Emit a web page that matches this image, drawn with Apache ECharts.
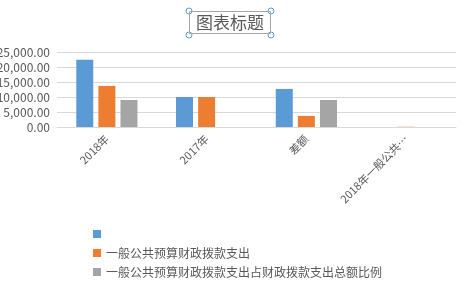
<!DOCTYPE html>
<html><head><meta charset="utf-8">
<script src="https://cdn.jsdelivr.net/npm/echarts@6/dist/echarts.min.js"></script>
<style>html,body{margin:0;padding:0;background:#fff}#c{width:470px;height:292px}</style>
</head><body><div id="c"></div>
<script>
var categories = ['2018年', '2017年', '差额', '2018年一般公共预算财政拨款支出占财政拨款支出总额比例'];
var seriesNames = [' ', '一般公共预算财政拨款支出', '一般公共预算财政拨款支出占财政拨款支出总额比例'];
var seriesA = [22400, 10000, 12700, null];
var seriesB = [13700, 10000, 3700, 300];
var seriesC = [9000, null, 9000, null];
var yTicks = [0, 5000, 10000, 15000, 20000, 25000];

var font = '"Noto Sans CJK SC", "Noto Sans", sans-serif';
var txt = '#595959';
function fmt(v){ return v.toLocaleString('en-US',{minimumFractionDigits:2, maximumFractionDigits:2}); }

var chart = echarts.init(document.getElementById('c'));
chart.setOption({
  animation: false,
  title: {
    text: '图表标题', left: 189, top: 11,
    padding: [3, 7, 3, 7],
    borderColor: '#a6a6a6', borderWidth: 1,
    textStyle: {color: txt, fontSize: 17, fontWeight: 'normal', fontFamily: font}
  },
  legend: {
    orient: 'vertical', left: 88, top: 223,
    itemWidth: 8, itemHeight: 8, itemGap: 7,
    icon: 'rect',
    textStyle: {color: txt, fontSize: 12, fontFamily: font},
    data: seriesNames
  },
  grid: {left: 57, right: 14, top: 52, height: 75, outerBoundsMode: 'none'},
  xAxis: {
    type: 'category', data: categories,
    axisLine: {lineStyle: {color: '#d9d9d9'}},
    axisTick: {show: false},
    axisLabel: {
      rotate: 45, interval: 0, color: txt, fontSize: 11, fontFamily: font, margin: 10,
      width: 95, overflow: 'truncate', ellipsis: '…'
    }
  },
  yAxis: {
    type: 'value', min: yTicks[0], max: yTicks[yTicks.length - 1], interval: 5000,
    axisLine: {show: false}, axisTick: {show: false},
    splitLine: {lineStyle: {color: '#d9d9d9'}},
    axisLabel: {color: txt, fontSize: 12, fontFamily: font, margin: 7, formatter: function(v){ return fmt(v); }}
  },
  series: [
    {name: seriesNames[0], type: 'bar', data: seriesA, barWidth: 17, barGap: '30%', itemStyle: {color: '#5b9bd5'}},
    {name: seriesNames[1], type: 'bar', data: seriesB.map(function(v, i){ return i === 3 ? {value: v, itemStyle: {opacity: 0.25}} : v; }), barWidth: 17, barGap: '30%', itemStyle: {color: '#ed7d31'}},
    {name: seriesNames[2], type: 'bar', data: seriesC, barWidth: 17, barGap: '30%', itemStyle: {color: '#a5a5a5'}}
  ],
  graphic: [
    {type: 'circle', shape: {cx: 189, cy: 11, r: 3}, style: {fill: '#fff', stroke: '#5b9bd5', lineWidth: 1}},
    {type: 'circle', shape: {cx: 271, cy: 11, r: 3}, style: {fill: '#fff', stroke: '#5b9bd5', lineWidth: 1}},
    {type: 'circle', shape: {cx: 189, cy: 35, r: 3}, style: {fill: '#fff', stroke: '#5b9bd5', lineWidth: 1}},
    {type: 'circle', shape: {cx: 271, cy: 35, r: 3}, style: {fill: '#fff', stroke: '#5b9bd5', lineWidth: 1}}
  ]
});
</script></body></html>
